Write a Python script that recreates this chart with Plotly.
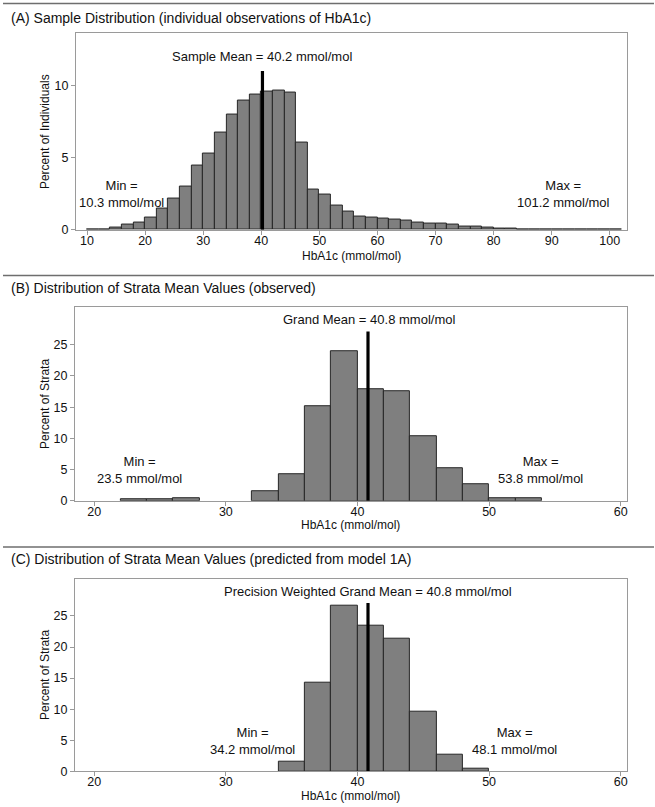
import plotly.graph_objects as go

W, H = 655, 807

# ---------------- data ----------------
bin_width = 2.0

# (A) individual HbA1c observations: lower bin edges and percent
a_bin_lo = [10, 12, 14, 16, 18, 20, 22, 24, 26, 28, 30, 32, 34, 36, 38, 40, 42, 44, 46, 48,
            50, 52, 54, 56, 58, 60, 62, 64, 66, 68, 70, 72, 74, 76, 78, 80, 82, 84, 86, 88,
            90, 92, 94, 96, 98, 100]
a_pct = [0.01, 0.02, 0.12, 0.35, 0.50, 0.87, 1.45, 2.15, 3.00, 4.42, 5.30, 6.75, 8.00, 8.93,
         9.40, 9.57, 9.65, 9.53, 6.05, 2.78, 2.42, 1.65, 1.24, 0.94, 0.83, 0.79, 0.69, 0.62,
         0.51, 0.43, 0.40, 0.36, 0.25, 0.20, 0.14, 0.09, 0.05, 0.04, 0.03, 0.03, 0.04, 0.03,
         0.02, 0.02, 0.02, 0.02]
a_mean = 40.2
a_min, a_max = 10.3, 101.2

# (B) observed strata means
b_bin_lo = [22, 24, 26, 32, 34, 36, 38, 40, 42, 44, 46, 48, 50, 52]
b_pct = [0.2, 0.2, 0.5, 1.6, 4.25, 15.1, 24.0, 17.8, 17.6, 10.3, 5.3, 2.65, 0.5, 0.5]
b_mean = 40.8
b_min, b_max = 23.5, 53.8

# (C) predicted strata means (model 1A)
c_bin_lo = [34, 36, 38, 40, 42, 44, 46, 48]
c_pct = [1.55, 14.3, 26.6, 23.5, 21.4, 9.6, 2.65, 0.5]
c_mean = 40.8
c_min, c_max = 34.2, 48.1

a_ticks = [10, 20, 30, 40, 50, 60, 70, 80, 90, 100]
bc_ticks = [20, 30, 40, 50, 60]
a_yticks = [0, 5, 10]
bc_yticks = [0, 5, 10, 15, 20, 25]

titles = ["(A) Sample Distribution (individual observations of HbA1c)",
          "(B) Distribution of Strata Mean Values (observed)",
          "(C) Distribution of Strata Mean Values (predicted from model 1A)"]
ytitles = ["Percent of Individuals", "Percent of Strata", "Percent of Strata"]
mean_labels = ["Sample Mean = 40.2 mmol/mol", "Grand Mean = 40.8 mmol/mol",
               "Precision Weighted Grand Mean = 40.8 mmol/mol"]
xtitle = "HbA1c (mmol/mol)"

# ---------------- layout helpers ----------------
FONT = "Liberation Sans, Arial, Helvetica, sans-serif"
BAR_FILL = "#7f7f7f"
BAR_LINE = "#262626"
FRAME = "#9a9a9a"
YS = 1.0105  # vertical correction observed in the rendered page

def py(Y):
    return 1 - Y * YS / H

def px(X):
    return X / W

# pixel boxes for the three plot regions: (left, right, top, bottom)
boxes = [(76, 628, 32.5, 229.3), (75, 628, 306.7, 500), (75, 628, 577.7, 770)]
xranges = [[8.08, 102.97], [18.53, 60.48], [18.53, 60.48]]
yranges = [[0, 13.67], [0, 31.0], [0, 31.0]]
sep_Y = [3.5, 275, 546]
title_Y = [17.5, 287.5, 558.5]
xtitle_Y = [255.5, 524.5, 794.5]

panels = [
    (a_bin_lo, a_pct, a_mean, 11.0, a_min, a_max, a_ticks, a_yticks,
     (40.1, 12.0), (15.9, 2.45), (92.0, 2.45)),
    (b_bin_lo, b_pct, b_mean, 27.1, b_min, b_max, bc_ticks, bc_yticks,
     (40.85, 29.0), (23.47, 4.9), (53.9, 4.9)),
    (c_bin_lo, c_pct, c_mean, 27.1, c_min, c_max, bc_ticks, bc_yticks,
     (40.83, 29.0), (32.0, 4.9), (51.9, 4.9)),
]

fig = go.Figure()
shapes, annotations = [], []
layout = dict(width=W, height=H, margin=dict(l=0, r=0, t=0, b=0),
              paper_bgcolor="white", plot_bgcolor="white", showlegend=False,
              font=dict(family=FONT, size=13, color="#111"), bargap=0)

for i, (lo, pct, mean, mtop, vmin, vmax, xt, yt, mpos, minpos, maxpos) in enumerate(panels):
    n = "" if i == 0 else str(i + 1)
    xa, ya = "x" + n, "y" + n
    L, R, T, B = boxes[i]
    centers = [v + bin_width / 2 for v in lo]
    fig.add_trace(go.Bar(x=centers, y=pct, width=bin_width, xaxis=xa, yaxis=ya,
                         marker=dict(color=BAR_FILL, line=dict(color=BAR_LINE, width=1)),
                         hoverinfo="skip"))
    # mean line
    fig.add_trace(go.Scatter(x=[mean, mean], y=[0, mtop], mode="lines", xaxis=xa, yaxis=ya,
                             line=dict(color="black", width=3.2), hoverinfo="skip"))
    layout["xaxis" + n] = dict(domain=[px(L), px(R)], range=xranges[i], anchor=ya,
                               tickvals=xt, ticks="outside", ticklen=4, tickcolor=FRAME,
                               ticklabelstandoff=-5,
                               showline=True, mirror=True, linecolor=FRAME, linewidth=1,
                               showgrid=False, zeroline=False, fixedrange=True,
                               tickfont=dict(size=12.5, color="#111"))
    layout["yaxis" + n] = dict(domain=[py(B), py(T)], range=yranges[i], anchor=xa,
                               tickvals=yt, ticks="outside", ticklen=4, tickcolor=FRAME,
                               showline=True, mirror=True, linecolor=FRAME, linewidth=1,
                               showgrid=False, zeroline=False, fixedrange=True,
                               tickfont=dict(size=12.5, color="#111"))
    # separator line and panel title
    shapes.append(dict(type="line", xref="paper", yref="paper", x0=px(3), x1=1,
                       y0=py(sep_Y[i]), y1=py(sep_Y[i]), line=dict(color="#6e6e6e", width=1.5)))
    annotations.append(dict(text=titles[i], xref="paper", yref="paper", x=px(9), y=py(title_Y[i]),
                            xanchor="left", yanchor="middle", showarrow=False,
                            font=dict(size=14, color="#111")))
    # axis titles
    annotations.append(dict(text=xtitle, xref="paper", yref="paper", x=px((L + R) / 2),
                            y=py(xtitle_Y[i]), xanchor="center", yanchor="middle", showarrow=False,
                            font=dict(size=12, color="#111")))
    annotations.append(dict(text=ytitles[i], xref="paper", yref="paper", x=px(45),
                            y=py((T + B) / 2), xanchor="center", yanchor="middle", textangle=-90,
                            showarrow=False, font=dict(size=12, color="#111")))
    # in-plot labels
    annotations.append(dict(text=mean_labels[i], xref=xa, yref=ya, x=mpos[0], y=mpos[1],
                            xanchor="center", yanchor="middle", showarrow=False,
                            font=dict(size=13, color="#111")))
    annotations.append(dict(text=f"Min =<br>{vmin:.1f} mmol/mol", xref=xa, yref=ya,
                            x=minpos[0], y=minpos[1], xanchor="center", yanchor="middle",
                            showarrow=False, font=dict(size=13, color="#111")))
    annotations.append(dict(text=f"Max =<br>{vmax:.1f} mmol/mol", xref=xa, yref=ya,
                            x=maxpos[0], y=maxpos[1], xanchor="center", yanchor="middle",
                            showarrow=False, font=dict(size=13, color="#111")))

layout["shapes"] = shapes
layout["annotations"] = annotations
fig.update_layout(**layout)

post = """
document.documentElement.style.margin='0';
document.body.style.margin='0';
document.body.style.overflow='hidden';
"""
fig.write_html("out.html", config={"displayModeBar": False}, post_script=post)
